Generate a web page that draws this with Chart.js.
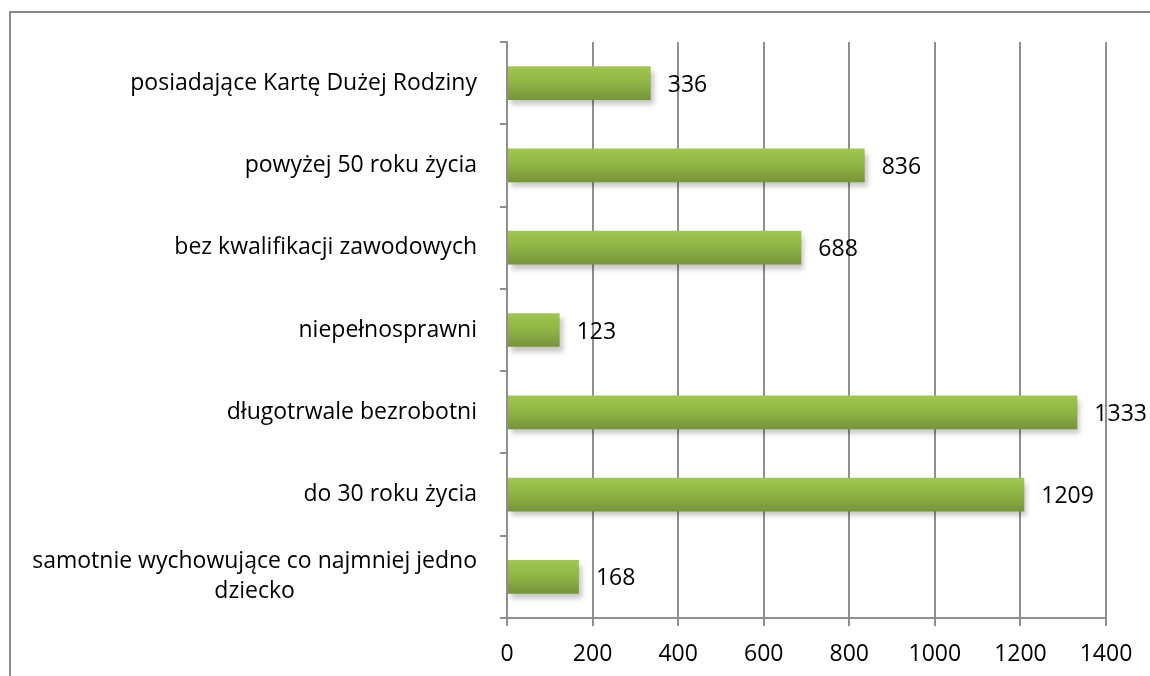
<!DOCTYPE html>
<html lang="pl">
<head>
    <meta charset="UTF-8">
    <title>Wykres</title>
    <script src="https://cdn.jsdelivr.net/npm/chart.js"></script>
    <style>
        html, body { margin: 0; padding: 0; background: #fff; }
        #wrap { width: 1150px; height: 676px; }
    </style>
</head>
<body>
    <div id="wrap"><canvas id="chart" width="1150" height="676"></canvas></div>

    <script>
        const categories = [
            ['posiadające Kartę Dużej Rodziny'],
            ['powyżej 50 roku życia'],
            ['bez kwalifikacji zawodowych'],
            ['niepełnosprawni'],
            ['długotrwale bezrobotni'],
            ['do 30 roku życia'],
            ['samotnie wychowujące co najmniej jedno', 'dziecko']
        ];
        const values = [336, 836, 688, 123, 1333, 1209, 168];
        const xTicks = [0, 200, 400, 600, 800, 1000, 1200, 1400];

        const FONT = '"Open Sans", Lato, sans-serif';
        const FONT_SIZE = 23;
        const BAR_RATIO = 0.41;

        function barGradient(c) {
            const chart = c.chart;
            const y = chart.scales.y;
            if (!y || c.dataIndex === undefined) return '#8db046';
            const cy = y.getPixelForValue(c.dataIndex);
            const half = (y.bottom - y.top) / categories.length * BAR_RATIO / 2;
            if (!Number.isFinite(cy) || !Number.isFinite(half) || half <= 0) return '#8db046';
            const g = chart.ctx.createLinearGradient(0, cy - half, 0, cy + half);
            g.addColorStop(0, '#a0c74e');
            g.addColorStop(0.5, '#8fb445');
            g.addColorStop(1, '#76933c');
            return g;
        }

        // ramka wokół wykresu
        const framePlugin = {
            id: 'frame',
            beforeDraw(chart) {
                const ctx = chart.ctx;
                ctx.save();
                ctx.strokeStyle = '#8a8a8a';
                ctx.lineWidth = 2;
                ctx.beginPath();
                ctx.moveTo(10, chart.height);
                ctx.lineTo(10, 12);
                ctx.lineTo(chart.width, 12);
                ctx.stroke();
                ctx.restore();
            }
        };

        // cień pod słupkami
        const shadowPlugin = {
            id: 'barShadow',
            beforeDatasetsDraw(chart) {
                const ctx = chart.ctx;
                ctx.save();
                ctx.shadowColor = 'rgba(0,0,0,0.22)';
                ctx.shadowBlur = 5;
                ctx.shadowOffsetX = 3;
                ctx.shadowOffsetY = 5;
            },
            afterDatasetsDraw(chart) {
                chart.ctx.restore();
            }
        };

        // etykiety kategorii i wartości
        const labelsPlugin = {
            id: 'labels',
            afterDraw(chart) {
                const ctx = chart.ctx;
                const y = chart.scales.y;
                ctx.save();
                ctx.fillStyle = '#000';
                ctx.font = FONT_SIZE + 'px ' + FONT;
                ctx.textBaseline = 'middle';
                const lh = 30;
                categories.forEach((lines, i) => {
                    const cy = y.getPixelForValue(i);
                    const widths = lines.map(l => ctx.measureText(l).width);
                    const maxW = Math.max(...widths);
                    const right = y.right - 30;
                    const top = cy - (lines.length - 1) * lh / 2;
                    lines.forEach((l, j) => {
                        ctx.textAlign = 'center';
                        ctx.fillText(l, right - maxW / 2, top + j * lh);
                    });
                });
                const meta = chart.getDatasetMeta(0);
                ctx.textAlign = 'left';
                meta.data.forEach((bar, i) => {
                    ctx.fillText(String(values[i]), bar.x + 17, bar.y + 2);
                });
                ctx.restore();
            }
        };

        new Chart(document.getElementById('chart'), {
            type: 'bar',
            data: {
                labels: categories.map(c => c.join(' ')),
                datasets: [{
                    data: values,
                    backgroundColor: barGradient,
                    borderWidth: 0,
                    categoryPercentage: 1,
                    barPercentage: BAR_RATIO
                }]
            },
            options: {
                indexAxis: 'y',
                responsive: false,
                animation: false,
                events: [],
                layout: { padding: { top: 42, right: 44, left: 0, bottom: 0 } },
                plugins: {
                    legend: { display: false },
                    tooltip: { enabled: false },
                    title: { display: false }
                },
                scales: {
                    x: {
                        min: 0,
                        max: 1400,
                        afterBuildTicks(scale) {
                            scale.ticks = xTicks.map(v => ({ value: v }));
                        },
                        afterFit(scale) { scale.height = 58; },
                        grid: {
                            color: '#8f8f8f',
                            lineWidth: 2,
                            tickLength: 8,
                            drawTicks: true
                        },
                        border: { display: true, color: '#8f8f8f', width: 2 },
                        ticks: {
                            color: '#000',
                            font: { family: FONT, size: FONT_SIZE },
                            padding: 15,
                            callback: v => String(v)
                        }
                    },
                    y: {
                        afterFit(scale) { scale.width = 507; },
                        grid: {
                            drawOnChartArea: false,
                            drawTicks: true,
                            tickLength: 7,
                            color: '#8f8f8f',
                            lineWidth: 2
                        },
                        border: { display: true, color: '#8f8f8f', width: 2 },
                        ticks: { display: false }
                    }
                }
            },
            plugins: [framePlugin, shadowPlugin, labelsPlugin]
        });
    </script>
</body>
</html>
